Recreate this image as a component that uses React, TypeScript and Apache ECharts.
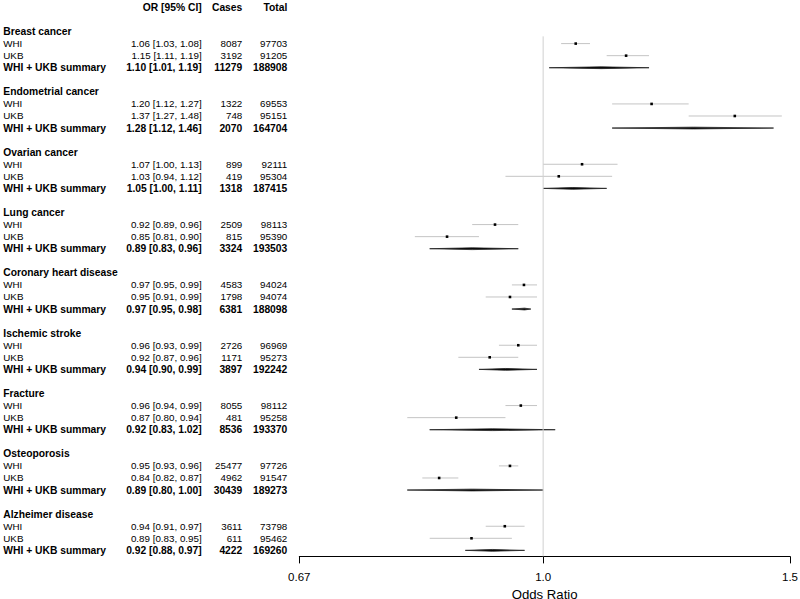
import React, { useEffect, useRef } from "react";
import * as echarts from "echarts";

// ---------- data ----------
const groups = [
  "Breast cancer",
  "Endometrial cancer",
  "Ovarian cancer",
  "Lung cancer",
  "Coronary heart disease",
  "Ischemic stroke",
  "Fracture",
  "Osteoporosis",
  "Alzheimer disease",
];

const whiOR = [1.06, 1.2, 1.07, 0.92, 0.97, 0.96, 0.96, 0.95, 0.94];
const whiEst = [1.055, 1.195, 1.066, 0.924, 0.969, 0.96, 0.964, 0.947, 0.939];
const whiLo = [1.03, 1.12, 1.0, 0.89, 0.95, 0.93, 0.94, 0.93, 0.91];
const whiHi = [1.08, 1.27, 1.13, 0.96, 0.99, 0.99, 0.99, 0.96, 0.97];
const whiCases = [8087, 1322, 899, 2509, 4583, 2726, 8055, 25477, 3611];
const whiTotal = [97703, 69553, 92111, 98113, 94024, 96969, 98112, 97726, 73798];

const ukbOR = [1.15, 1.37, 1.03, 0.85, 0.95, 0.92, 0.87, 0.84, 0.89];
const ukbEst = [1.146, 1.37, 1.026, 0.854, 0.947, 0.916, 0.867, 0.843, 0.889];
const ukbLo = [1.11, 1.27, 0.94, 0.81, 0.91, 0.87, 0.8, 0.82, 0.83];
const ukbHi = [1.19, 1.48, 1.12, 0.9, 0.99, 0.96, 0.94, 0.87, 0.95];
const ukbCases = [3192, 748, 419, 815, 1798, 1171, 481, 4962, 611];
const ukbTotal = [91205, 95151, 95304, 95390, 94074, 95273, 95258, 91547, 95462];

const sumOR = [1.1, 1.28, 1.05, 0.89, 0.97, 0.94, 0.92, 0.89, 0.92];
const sumLo = [1.01, 1.12, 1.0, 0.83, 0.95, 0.9, 0.83, 0.8, 0.88];
const sumHi = [1.19, 1.46, 1.11, 0.96, 0.98, 0.99, 1.02, 1.0, 0.97];
const sumCases = [11279, 2070, 1318, 3324, 6381, 3897, 8536, 30439, 4222];
const sumTotal = [188908, 164704, 187415, 193503, 188098, 192242, 193370, 189273, 169260];

const headerLabels = ["OR [95% CI]", "Cases", "Total"];
const studyNames = ["WHI", "UKB", "WHI + UKB summary"];
const tickValues = [0.67, 1, 1.5];
const tickLabels = ["0.67", "1.0", "1.5"];
const axisName = "Odds Ratio";
const refValue = 1;

const FONT = "'Liberation Sans', Arial, Helvetica, sans-serif";
const ROW_MIN = -2;
const ROW_MAX = 43.5;
const GRID_TOP = 7.4;
const GRID_H = 549.0;
const COL_NAME = 3.3;
const COL_OR = 201.7;
const COL_CASES = 242.3;
const COL_TOTAL = 287.3;

const fmtCI = (o: number, l: number, h: number) =>
  `${o.toFixed(2)} [${l.toFixed(2)}, ${h.toFixed(2)}]`;

type TextItem = { x: number; row: number; text: string; align: string; bold: boolean };

function buildTextItems(): TextItem[] {
  const items: TextItem[] = [];
  const cols = [COL_OR, COL_CASES, COL_TOTAL];
  headerLabels.forEach((t, i) =>
    items.push({ x: cols[i], row: -2, text: t, align: "right", bold: true })
  );
  groups.forEach((g, gi) => {
    const base = gi * 5;
    items.push({ x: COL_NAME, row: base, text: g, align: "left", bold: true });
    const rows = [
      [fmtCI(whiOR[gi], whiLo[gi], whiHi[gi]), String(whiCases[gi]), String(whiTotal[gi])],
      [fmtCI(ukbOR[gi], ukbLo[gi], ukbHi[gi]), String(ukbCases[gi]), String(ukbTotal[gi])],
      [fmtCI(sumOR[gi], sumLo[gi], sumHi[gi]), String(sumCases[gi]), String(sumTotal[gi])],
    ];
    rows.forEach((r, ri) => {
      const bold = ri === 2;
      const row = base + 1 + ri;
      items.push({ x: COL_NAME, row, text: studyNames[ri], align: "left", bold });
      r.forEach((t, ci) => items.push({ x: cols[ci], row, text: t, align: "right", bold }));
    });
  });
  return items;
}

export default function App() {
  const ref = useRef<HTMLDivElement>(null);

  useEffect(() => {
    if (!ref.current) return;
    const chart = echarts.init(ref.current, undefined, { renderer: "svg" });
    const textItems = buildTextItems();

    const studyData: number[][] = [];
    const sumData: number[][] = [];
    groups.forEach((_, gi) => {
      const base = gi * 5;
      studyData.push([whiEst[gi], whiLo[gi], whiHi[gi], base + 1]);
      studyData.push([ukbEst[gi], ukbLo[gi], ukbHi[gi], base + 2]);
      sumData.push([sumOR[gi], sumLo[gi], sumHi[gi], base + 3]);
    });

    const option: any = {
      animation: false,
      backgroundColor: "#ffffff",
      grid: [
        { left: 0, top: GRID_TOP, width: 300, height: GRID_H, outerBoundsMode: "none", containLabel: false },
        { left: 299.3, top: GRID_TOP, width: 490.7, height: GRID_H, outerBoundsMode: "none", containLabel: false },
      ],
      xAxis: [
        { gridIndex: 0, type: "value", min: 0, max: 300, show: false },
        {
          gridIndex: 1,
          type: "log",
          logBase: 10,
          min: 0.67,
          max: 1.5,
          axisLine: { show: true, onZero: false, lineStyle: { color: "#000", width: 1 } },
          axisTick: {
            show: true,
            length: 7,
            customValues: tickValues,
            lineStyle: { color: "#000", width: 1 },
          },
          axisLabel: {
            customValues: tickValues,
            margin: 15,
            color: "#000",
            fontFamily: FONT,
            fontSize: 11.5,
            formatter: (v: number) => {
              const i = tickValues.findIndex((t) => Math.abs(t - v) < 1e-6);
              return i >= 0 ? tickLabels[i] : "";
            },
          },
          splitLine: { show: false },
          name: axisName,
          nameLocation: "middle",
          nameGap: 27,
          nameTextStyle: { color: "#000", fontFamily: FONT, fontSize: 13.2, lineHeight: 12 },
        },
      ],
      yAxis: [
        { gridIndex: 0, type: "value", min: ROW_MIN, max: ROW_MAX, inverse: true, show: false },
        { gridIndex: 1, type: "value", min: ROW_MIN, max: ROW_MAX, inverse: true, show: false },
      ],
      series: [
        {
          type: "custom",
          xAxisIndex: 0,
          yAxisIndex: 0,
          data: textItems.map((t) => [t.x, t.row]),
          renderItem: (params: any, api: any) => {
            const it = textItems[params.dataIndex];
            const p = api.coord([api.value(0), api.value(1)]);
            return {
              type: "text",
              x: p[0],
              y: p[1],
              style: {
                text: it.text,
                align: it.align,
                verticalAlign: "middle",
                fontFamily: FONT,
                fontSize: it.bold ? 10.3 : 9.8,
                fontWeight: it.bold ? "bold" : "normal",
                fill: "#000",
              },
            };
          },
        },
        {
          type: "line",
          xAxisIndex: 1,
          yAxisIndex: 1,
          data: [
            [refValue, 0.4],
            [refValue, ROW_MAX],
          ],
          symbol: "none",
          lineStyle: { color: "#d0d0d0", width: 1 },
          silent: true,
        },
        {
          type: "custom",
          xAxisIndex: 1,
          yAxisIndex: 1,
          data: studyData,
          encode: { x: [0, 1, 2], y: 3 },
          renderItem: (_params: any, api: any) => {
            const row = api.value(3);
            const pE = api.coord([api.value(0), row]);
            const pL = api.coord([api.value(1), row]);
            const pH = api.coord([api.value(2), row]);
            return {
              type: "group",
              children: [
                {
                  type: "line",
                  shape: { x1: pL[0], y1: pL[1], x2: pH[0], y2: pH[1] },
                  style: { stroke: "#c4c4c4", lineWidth: 1 },
                },
                {
                  type: "rect",
                  shape: { x: pE[0] - 1.3, y: pE[1] - 1.3, width: 2.6, height: 2.6 },
                  style: { fill: "#000" },
                },
              ],
            };
          },
        },
        {
          type: "custom",
          xAxisIndex: 1,
          yAxisIndex: 1,
          data: sumData,
          encode: { x: [0, 1, 2], y: 3 },
          renderItem: (_params: any, api: any) => {
            const row = api.value(3);
            const pE = api.coord([api.value(0), row]);
            const pL = api.coord([api.value(1), row]);
            const pH = api.coord([api.value(2), row]);
            const h = 0.9;
            return {
              type: "polygon",
              shape: {
                points: [
                  [pL[0], pL[1]],
                  [pE[0], pE[1] - h],
                  [pH[0], pH[1]],
                  [pE[0], pE[1] + h],
                ],
              },
              style: { fill: "#000", stroke: "#222", lineWidth: 0.8 },
            };
          },
        },
      ],
    };

    chart.setOption(option);
    return () => chart.dispose();
  }, []);

  return (
    <div
      ref={ref}
      style={{ position: "absolute", left: 0, top: 0, width: 800, height: 599, background: "#fff" }}
    />
  );
}
